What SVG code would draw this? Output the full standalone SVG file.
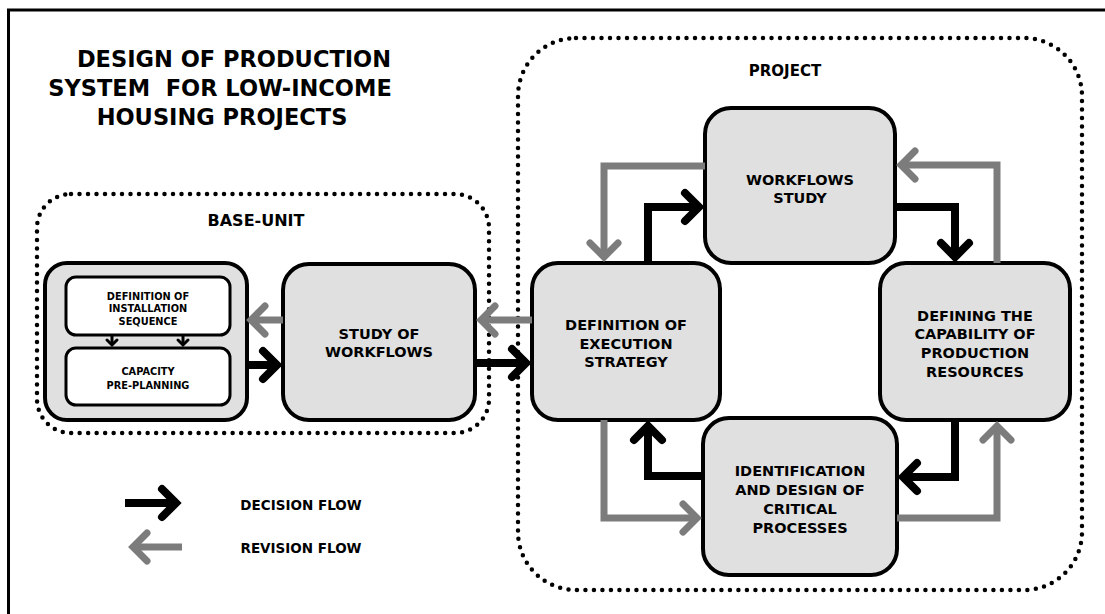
<svg xmlns="http://www.w3.org/2000/svg" width="1105" height="614" viewBox="0 0 1105 614">
  <style>
    .t { font-family: "DejaVu Sans", Verdana, sans-serif; font-weight: bold; fill: #000; text-anchor: middle; }
    .node { fill: #e0e0e0; stroke: #000; stroke-width: 4; }
    .inner { fill: #fff; stroke: #000; stroke-width: 3; }
    .dots { fill: none; stroke: #000; stroke-width: 4.5; stroke-linecap: round; stroke-dasharray: 0 8.5; }
    .dec { fill: none; stroke: #000; stroke-width: 8; stroke-linejoin: miter; }
    .rev { fill: none; stroke: #7c7c7c; stroke-width: 7; stroke-linejoin: miter; }
  </style>
  <defs>
    <marker id="headDec" markerUnits="userSpaceOnUse" orient="auto" refX="0" refY="0" markerWidth="60" markerHeight="60" viewBox="-30 -30 60 60" overflow="visible">
      <path d="M-14,-14 L0,0 L-14,14" fill="none" stroke="#000" stroke-width="8" stroke-linecap="round"/>
    </marker>
    <marker id="headRev" markerUnits="userSpaceOnUse" orient="auto" refX="0" refY="0" markerWidth="60" markerHeight="60" viewBox="-30 -30 60 60" overflow="visible">
      <path d="M-14,-14 L0,0 L-14,14" fill="none" stroke="#7c7c7c" stroke-width="7" stroke-linecap="round"/>
    </marker>
    <marker id="headSmall" markerUnits="userSpaceOnUse" orient="auto" refX="0" refY="0" markerWidth="20" markerHeight="20" viewBox="-10 -10 20 20" overflow="visible">
      <path d="M-5,-5 L0,0 L-5,5" fill="none" stroke="#000" stroke-width="3" stroke-linecap="round"/>
    </marker>
  </defs>

  <rect width="1105" height="614" fill="#fff"/>

  <!-- page frame -->
  <path d="M8.5,614 V10 H1105" fill="none" stroke="#000" stroke-width="3"/>

  <!-- title -->
  <g id="title">
    <text class="t" font-size="22.5" xml:space="preserve"><tspan x="234" y="67">DESIGN OF PRODUCTION</tspan><tspan x="220" y="96">SYSTEM  FOR LOW-INCOME</tspan><tspan x="222" y="125">HOUSING PROJECTS</tspan></text>
  </g>

  <!-- grouping frames -->
  <g id="base-unit">
    <rect class="dots" x="37" y="194" width="452" height="239" rx="34"/>
    <text class="t" font-size="16" x="256" y="226">BASE-UNIT</text>
  </g>
  <g id="project">
    <rect class="dots" x="518" y="38" width="564" height="552" rx="58"/>
    <text class="t" font-size="15" x="785" y="76">PROJECT</text>
  </g>

  <!-- base-unit planning block -->
  <g id="base-planning">
    <rect class="node" x="45" y="263" width="202" height="157" rx="22"/>
    <g id="installation-sequence">
      <rect class="inner" x="66" y="277" width="164" height="58" rx="10"/>
      <text class="t" font-size="9.8"><tspan x="148" y="300">DEFINITION OF</tspan><tspan x="148" y="312">INSTALLATION</tspan><tspan x="148" y="325">SEQUENCE</tspan></text>
    </g>
    <g id="capacity-preplanning">
      <rect class="inner" x="66" y="348" width="164" height="57" rx="10"/>
      <text class="t" font-size="9.8"><tspan x="148" y="375">CAPACITY</tspan><tspan x="148" y="389">PRE-PLANNING</tspan></text>
    </g>
  </g>

  <g id="study-of-workflows">
    <rect class="node" x="283" y="264" width="192" height="156" rx="26"/>
    <text class="t" font-size="14.5"><tspan x="379" y="339">STUDY OF</tspan><tspan x="379" y="357">WORKFLOWS</tspan></text>
  </g>

  <g id="execution-strategy">
    <rect class="node" x="532" y="263" width="188" height="157" rx="26"/>
    <text class="t" font-size="14.5"><tspan x="626" y="330">DEFINITION OF</tspan><tspan x="626" y="349">EXECUTION</tspan><tspan x="626" y="367">STRATEGY</tspan></text>
  </g>

  <g id="workflows-study">
    <rect class="node" x="705" y="108" width="190" height="155" rx="26"/>
    <text class="t" font-size="14.5"><tspan x="800" y="185">WORKFLOWS</tspan><tspan x="800" y="203">STUDY</tspan></text>
  </g>

  <g id="production-resources">
    <rect class="node" x="880" y="263" width="190" height="157" rx="26"/>
    <text class="t" font-size="14.5"><tspan x="975" y="321">DEFINING THE</tspan><tspan x="975" y="339">CAPABILITY OF</tspan><tspan x="975" y="358">PRODUCTION</tspan><tspan x="975" y="377">RESOURCES</tspan></text>
  </g>

  <g id="critical-processes">
    <rect class="node" x="703" y="418" width="194" height="157" rx="26"/>
    <text class="t" font-size="14.5"><tspan x="800" y="476">IDENTIFICATION</tspan><tspan x="800" y="495">AND DESIGN OF</tspan><tspan x="800" y="514">CRITICAL</tspan><tspan x="800" y="533">PROCESSES</tspan></text>
  </g>

  <!-- flows -->
  <g id="connectors">
    <!-- inside the planning block -->
    <path d="M112,336 V345" stroke="#000" stroke-width="3" fill="none" marker-end="url(#headSmall)"/>
    <path d="M183,336 V345" stroke="#000" stroke-width="3" fill="none" marker-end="url(#headSmall)"/>

    <!-- base unit -->
    <path class="dec" d="M247,365 H277" marker-end="url(#headDec)"/>
    <path class="rev" d="M283,320 H251" marker-end="url(#headRev)"/>
    <path class="rev" d="M532,320 H481" marker-end="url(#headRev)"/>
    <path class="dec" d="M475,363 H526" marker-end="url(#headDec)"/>

    <!-- project cycle: decisions -->
    <path class="dec" d="M648,263 V207 H699" marker-end="url(#headDec)"/>
    <path class="dec" d="M895,207 H955 V257" marker-end="url(#headDec)"/>
    <path class="dec" d="M955,420 V477 H903" marker-end="url(#headDec)"/>
    <path class="dec" d="M703,476 H648 V426" marker-end="url(#headDec)"/>

    <!-- project cycle: revisions -->
    <path class="rev" d="M705,166 H604 V257" marker-end="url(#headRev)"/>
    <path class="rev" d="M997,263 V165 H901" marker-end="url(#headRev)"/>
    <path class="rev" d="M897,518 H997 V426" marker-end="url(#headRev)"/>
    <path class="rev" d="M604,420 V518 H697" marker-end="url(#headRev)"/>
  </g>

  <!-- legend -->
  <g id="legend">
    <path class="dec" d="M125,503 H176" marker-end="url(#headDec)"/>
    <text class="t" font-size="13.5" x="301" y="510">DECISION FLOW</text>
    <path class="rev" d="M182,547 H133" marker-end="url(#headRev)"/>
    <text class="t" font-size="13.5" x="301" y="553">REVISION FLOW</text>
  </g>
</svg>
